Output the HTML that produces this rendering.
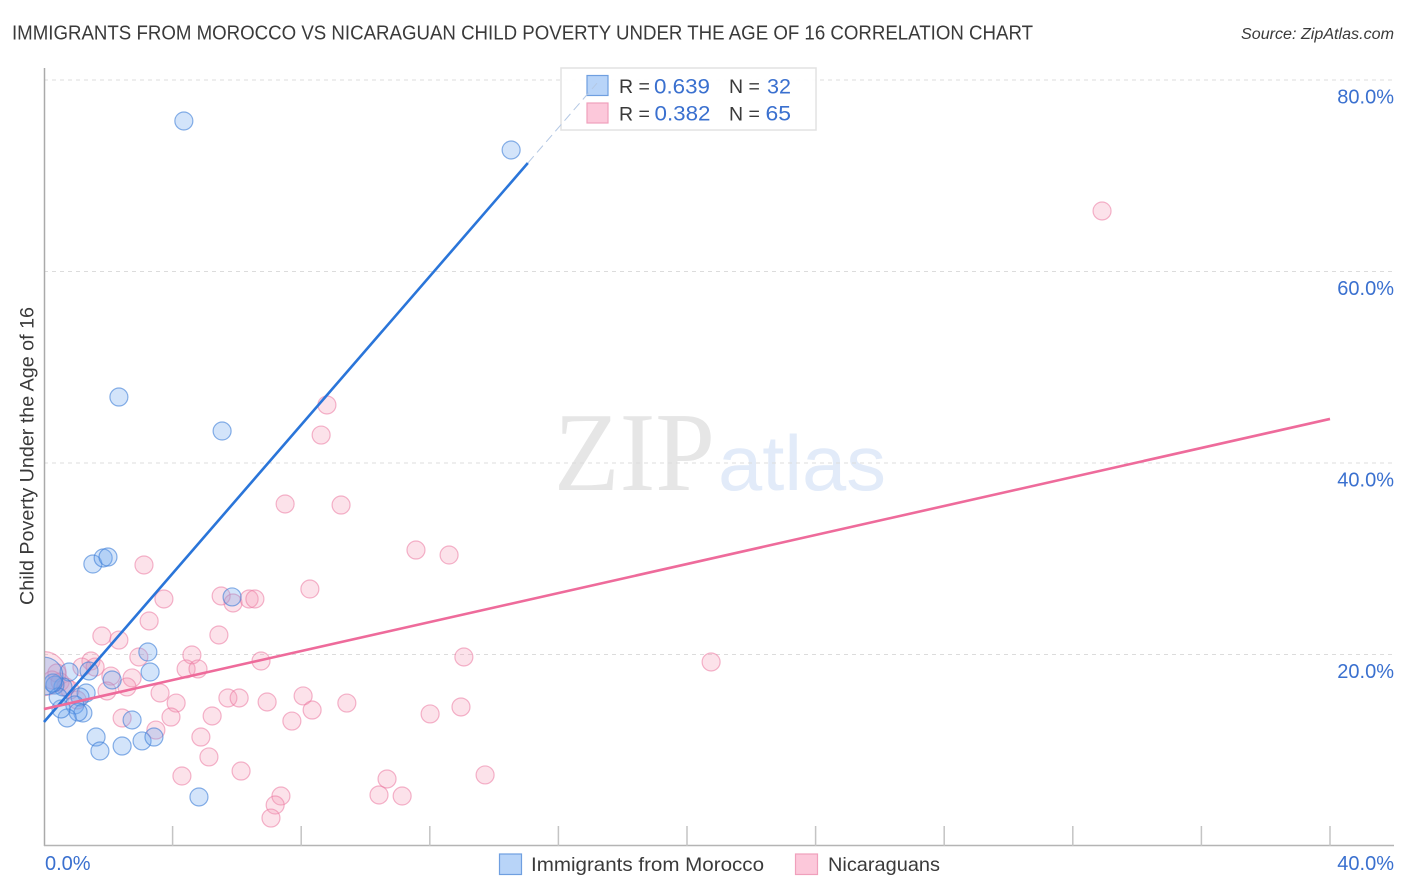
<!DOCTYPE html>
<html lang="en">
<head>
<meta charset="utf-8">
<title>Immigrants from Morocco vs Nicaraguan Child Poverty Correlation Chart</title>
<style>
html,body{margin:0;padding:0;background:#fff;width:1406px;height:892px;overflow:hidden}
svg{display:block;font-family:"Liberation Sans",sans-serif}
</style>
</head>
<body>
<svg id="chart" xmlns="http://www.w3.org/2000/svg" width="1406" height="892" viewBox="0 0 1406 892">
  <defs>
    <clipPath id="plot-clip"><rect x="45" y="60" width="1360" height="786"/></clipPath>
  </defs>
  <rect width="1406" height="892" fill="#fff"/>
  <text x="12" y="39.5" font-size="20" fill="#3a3a3a" textLength="1021" lengthAdjust="spacingAndGlyphs">IMMIGRANTS FROM MOROCCO VS NICARAGUAN CHILD POVERTY UNDER THE AGE OF 16 CORRELATION CHART</text>
  <text x="1241" y="39" font-size="15.5" font-style="italic" fill="#3a3a3a" textLength="153" lengthAdjust="spacingAndGlyphs">Source: ZipAtlas.com</text>
  <g>
    <text x="554" y="490" font-family="'Liberation Serif',serif" font-size="112" fill="#e6e6e6" textLength="161" lengthAdjust="spacingAndGlyphs">ZIP</text>
    <text x="718" y="490" font-size="78" fill="#e2ebf9" textLength="168" lengthAdjust="spacingAndGlyphs">atlas</text>
  </g>
  <g id="grid"></g>
  <g id="axes"></g>
  <g id="pink-points" clip-path="url(#plot-clip)"></g>
  <g id="blue-points" clip-path="url(#plot-clip)"></g>
  <g id="trends"></g>
  <text transform="translate(33.5,605) rotate(-90)" font-size="19.5" fill="#3a3a3a" textLength="298" lengthAdjust="spacingAndGlyphs">Child Poverty Under the Age of 16</text>

  <g>
    <rect x="561" y="68" width="255" height="62" fill="#fff" fill-opacity="0.9" stroke="#e2e2e2" stroke-width="1.5"/>
    <rect x="587" y="75.500" width="21" height="20" fill="#b8d4f8" stroke="#6f9fe0" stroke-width="1.2"/>
    <rect x="587" y="103" width="21" height="20" fill="#fcc8da" stroke="#f0a0bc" stroke-width="1.2"/>
    <text x="619" y="93" font-size="19.500" fill="#3a3a3a">R =</text>
    <text x="654" y="93.500" font-size="21" fill="#3a70cf" textLength="56" lengthAdjust="spacingAndGlyphs">0.639</text>
    <text x="729" y="93" font-size="19.500" fill="#3a3a3a">N =</text>
    <text x="767" y="93.500" font-size="21" fill="#3a70cf" textLength="24" lengthAdjust="spacingAndGlyphs">32</text>
    <text x="619" y="120.500" font-size="19.500" fill="#3a3a3a">R =</text>
    <text x="654.500" y="120.500" font-size="21" fill="#3a70cf" textLength="56" lengthAdjust="spacingAndGlyphs">0.382</text>
    <text x="729" y="120.500" font-size="19.500" fill="#3a3a3a">N =</text>
    <text x="765.500" y="120.500" font-size="21" fill="#3a70cf" textLength="25.500" lengthAdjust="spacingAndGlyphs">65</text>
  </g>
  <g id="dash-trend"></g>

  <g>
    <rect x="499.500" y="854" width="22" height="20.500" fill="#b8d4f8" stroke="#6f9fe0" stroke-width="1.2"/>
    <text x="531" y="871" font-size="19.500" fill="#3a3a3a" textLength="233" lengthAdjust="spacingAndGlyphs">Immigrants from Morocco</text>
    <rect x="795.500" y="854" width="22" height="20.500" fill="#fcc8da" stroke="#f0a0bc" stroke-width="1.2"/>
    <text x="828" y="871" font-size="19.500" fill="#3a3a3a" textLength="112" lengthAdjust="spacingAndGlyphs">Nicaraguans</text>
  </g>
</svg>
<script>
var xTickValues = [0, 4, 8, 12, 16, 20, 24, 28, 32, 36, 40];
var xTickLabels = ['0.0%', '40.0%'];
var yTickValues = [20, 40, 60, 80];
var yTickLabels = ['20.0%', '40.0%', '60.0%', '80.0%'];

var moroccoX = [4.35,14.53,2.33,5.54,1.52,1.84,1.99,5.85,3.23,3.30,2.12,1.40,0.78,1.31,1.12,0.96,1.21,1.06,0.72,0.53,2.74,1.62,1.74,2.43,3.05,3.42,4.82,0.59,0.34,0.44,0.28,0.00];
var moroccoY = [75.72,72.69,46.89,43.34,29.45,30.08,30.18,26.01,20.26,18.17,17.34,18.28,18.17,15.98,15.56,14.73,13.89,13.99,13.37,14.31,13.16,11.38,9.92,10.44,10.97,11.38,5.12,16.61,16.81,15.56,17.02,17.75];
var moroccoWeight = [1,1,1,1,1,1,1,1,1,1,1,1,1,1,1,1,1,1,1,1,1,1,1,1,1,1,1,1,1,1,1,4.4];

var nicaraguanX = [3.11,3.73,3.27,1.80,2.33,5.51,5.88,6.38,6.56,8.27,5.44,4.60,4.42,4.79,6.75,2.95,1.46,1.18,1.59,2.08,2.74,2.58,1.96,3.61,4.11,3.95,5.72,6.07,6.94,8.06,8.34,7.71,5.23,2.43,3.48,4.88,5.13,4.29,6.13,7.37,7.19,7.06,32.91,8.80,8.62,7.50,9.24,11.57,12.60,13.06,20.75,9.42,12.01,12.97,13.72,10.67,10.42,11.14,0.00,0.40,0.50,0.25,0.81,1.03,0.68];
var nicaraguanY = [29.35,25.80,23.50,21.93,21.51,26.11,25.38,25.80,25.80,26.84,22.04,19.95,18.49,18.49,19.32,19.74,19.32,18.69,18.69,17.75,17.55,16.61,16.19,15.98,14.93,13.47,15.46,15.46,15.04,15.67,14.20,13.05,13.58,13.37,12.11,11.38,9.30,7.31,7.83,5.22,4.28,2.92,66.32,46.06,42.92,35.72,35.61,30.91,30.39,19.74,19.22,14.93,13.79,14.52,7.42,7.00,5.33,5.22,18.00,18.07,17.13,17.34,16.29,15.25,16.61];
var nicaraguanWeight = [1,1,1,1,1,1,1,1,1,1,1,1,1,1,1,1,1,1,1,1,1,1,1,1,1,1,1,1,1,1,1,1,1,1,1,1,1,1,1,1,1,1,1,1,1,1,1,1,1,1,1,1,1,1,1,1,1,1,6,1,1,1,1,1,1];

var moroccoTrendX = [0, 15.05, 17.2];
var moroccoTrendY = [12.95, 71.33, 79.67];
var nicaraguanTrendX = [0, 40];
var nicaraguanTrendY = [14.3, 44.6];

var NS = 'http://www.w3.org/2000/svg';
function xPos(v) { return 44 + v * 32.15; }
function yPos(v) { return 846 - v * 9.575; }
function radius(w) { return 9 * Math.sqrt(w); }
function make(tag, attrs, parent) {
  var el = document.createElementNS(NS, tag);
  for (var k in attrs) { el.setAttribute(k, attrs[k]); }
  parent.appendChild(el);
  return el;
}

var grid = document.getElementById('grid');
var axes = document.getElementById('axes');
var i, el;

for (i = 0; i < yTickValues.length; i++) {
  el = make('line', {x1: 44, x2: 1393, y1: yPos(yTickValues[i]), y2: yPos(yTickValues[i]), stroke: '#dcdcdc', 'stroke-width': 1, 'stroke-dasharray': '4 4'}, grid);
  
  
  el = make('text', {x: 1394, y: yPos(yTickValues[i]) + 23.5, 'font-size': 20, fill: '#3a70cf', 'text-anchor': 'end'}, axes);
  
  
  el.textContent = yTickLabels[i];
}

el = make('line', {x1: 44.5, x2: 44.5, y1: 68, y2: 846, stroke: '#aaa', 'stroke-width': 1.5}, axes);


el = make('line', {x1: 44, x2: 1394, y1: 845.5, y2: 845.5, stroke: '#b4b4b4', 'stroke-width': 1.5}, axes);



for (i = 1; i < xTickValues.length; i++) {
  el = make('line', {x1: xPos(xTickValues[i]), x2: xPos(xTickValues[i]), y1: 826, y2: 846, stroke: '#c4c4c4', 'stroke-width': 1.5}, axes);
  
  
}

el = make('text', {x: xPos(xTickValues[0]) + 1, y: 870, 'font-size': 20, fill: '#3a70cf'}, axes);


el.textContent = xTickLabels[0];
el = make('text', {x: 1394, y: 870, 'font-size': 20, fill: '#3a70cf', 'text-anchor': 'end'}, axes);


el.textContent = xTickLabels[1];

var pinkPoints = document.getElementById('pink-points');
for (i = 0; i < nicaraguanX.length; i++) {
  el = make('circle', {cx: xPos(nicaraguanX[i]), cy: yPos(nicaraguanY[i]), r: radius(nicaraguanWeight[i]), fill: 'rgba(245,150,180,0.28)', stroke: 'rgba(235,120,160,0.55)', 'stroke-width': 1.2}, pinkPoints);
  
  
}

var bluePoints = document.getElementById('blue-points');
for (i = 0; i < moroccoX.length; i++) {
  el = make('circle', {cx: xPos(moroccoX[i]), cy: yPos(moroccoY[i]), r: radius(moroccoWeight[i]), fill: 'rgba(110,165,240,0.3)', stroke: 'rgba(60,125,215,0.6)', 'stroke-width': 1.2}, bluePoints);
  
  
}

var trends = document.getElementById('trends');
el = make('line', {x1: xPos(moroccoTrendX[0]), y1: yPos(moroccoTrendY[0]), x2: xPos(moroccoTrendX[1]), y2: yPos(moroccoTrendY[1]), stroke: '#2a75d9', 'stroke-width': 2.6}, trends);


el = make('line', {x1: xPos(nicaraguanTrendX[0]), y1: yPos(nicaraguanTrendY[0]), x2: xPos(nicaraguanTrendX[1]), y2: yPos(nicaraguanTrendY[1]), stroke: '#ee6b9b', 'stroke-width': 2.6}, trends);



var dashTrend = document.getElementById('dash-trend');
el = make('line', {x1: xPos(moroccoTrendX[1]), y1: yPos(moroccoTrendY[1]), x2: xPos(moroccoTrendX[2]), y2: yPos(moroccoTrendY[2]), stroke: '#b4c8e4', 'stroke-width': 1, 'stroke-dasharray': '9 5'}, dashTrend);


</script>
</body>
</html>
